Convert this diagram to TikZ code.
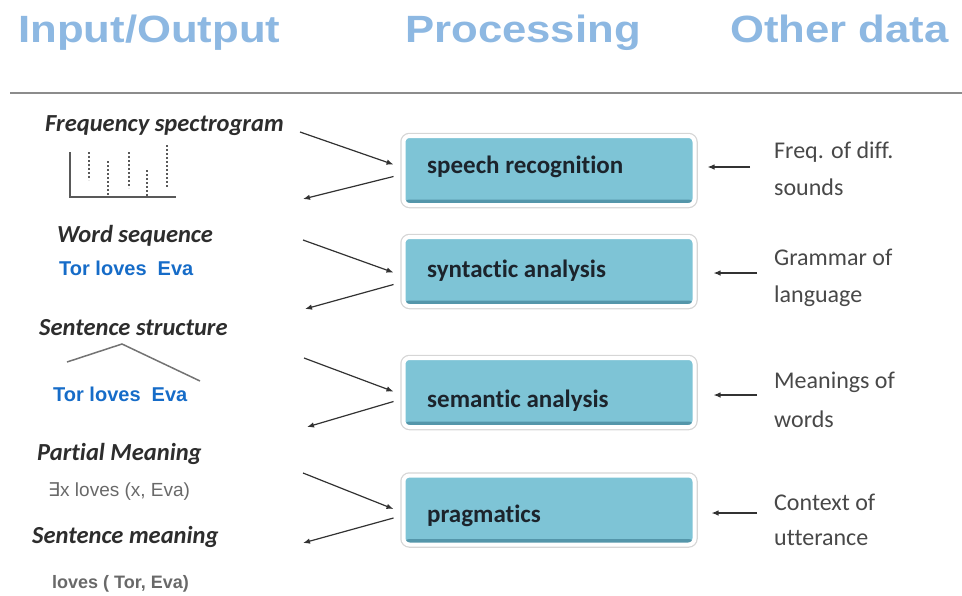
\documentclass[tikz,border=0pt]{standalone}
\usepackage{fontspec}
\setmainfont{Carlito}[Ligatures=NoCommon]
\newfontfamily\headfont{Liberation Sans}[FakeStretch=1.15]
\newfontfamily\arialfont{Liberation Sans}
\newfontfamily\symfont{DejaVu Sans}
\usetikzlibrary{arrows.meta}

\definecolor{headblue}{RGB}{141,184,226}
\definecolor{boxfill}{RGB}{126,196,214}
\definecolor{boxdark}{RGB}{84,150,170}
\definecolor{wordblue}{RGB}{22,108,200}
\definecolor{ink}{RGB}{45,45,45}
\definecolor{boxink}{RGB}{28,36,44}
\definecolor{sidegray}{RGB}{72,72,72}
\definecolor{formgray}{RGB}{105,105,105}
\definecolor{rulegray}{RGB}{140,140,140}
\definecolor{arrowgray}{RGB}{50,50,50}

\begin{document}
\begin{tikzpicture}[x=1pt,y=-1pt,
  head/.style={font=\headfont\bfseries\fontsize{38}{38}\selectfont,
    text=headblue, inner sep=0, anchor=base west},
  level/.style={font=\bfseries\itshape\fontsize{24.5}{24.5}\selectfont,
    text=ink, inner sep=0, anchor=base west},
  example/.style={font=\arialfont\bfseries\fontsize{20}{20}\selectfont,
    text=wordblue, inner sep=0, anchor=base west},
  formula/.style={font=\arialfont\fontsize{19}{19}\selectfont,
    text=formgray, inner sep=0, anchor=base west},
  side/.style={font=\fontsize{24}{24}\selectfont, text=sidegray,
    inner sep=0, anchor=base west},
  procbox/.style={draw=white, line width=4pt, fill=boxfill,
    rounded corners=6pt, minimum width=291pt, minimum height=69pt,
    inner sep=0,
    preaction={draw=black!16, line width=6.5pt},
    path picture={\fill[boxdark]
      ([yshift=5.5pt]path picture bounding box.south west) rectangle
      (path picture bounding box.south east);}},
  proctext/.style={font=\bfseries\fontsize{25}{25}\selectfont,
    text=boxink, inner sep=0, anchor=base west},
  arr/.style={draw=arrowgray, line width=1.2pt,
    -{Latex[length=7pt,width=5.5pt]}},
  axis/.style={draw=black!65, line width=1.3pt},
  bar/.style={draw=black!65, line width=1.2pt, dash pattern=on 2pt off 2pt},
  tree/.style={draw=black!55, line width=1.5pt}
]
\useasboundingbox (0,0) rectangle (962,595);

% column headings and rule
\node[head] (hio)   at (18,42)  {Input/Output};
\node[head] (hproc) at (405,42) {Processing};
\node[head] (hdata) at (730,42) {Other data};
\coordinate (ruleL) at (10,93);
\coordinate (ruleR) at (962,93);
\draw[draw=rulegray, line width=2.5pt] (ruleL) -- (ruleR);

% processing stages
\node[procbox] (b1) at (549,170.5) {};
\node[procbox] (b2) at (549,271.5) {};
\node[procbox] (b3) at (549,392.5) {};
\node[procbox] (b4) at (549,510)   {};
\node[proctext] (t1) at (427,173) {speech recognition};
\node[proctext] (t2) at (427,277) {syntactic analysis};
\node[proctext] (t3) at (427,407) {semantic analysis};
\node[proctext] (t4) at (427,522) {pragmatics};

% input/output representations
\node[level] (l1) at (45,131) {Frequency spectrogram};
\node[level] (l2) at (57,242) {Word sequence};
\node[example] (e2) at (59,275) {Tor loves\ \ Eva};
\node[level] (l3) at (39,335) {Sentence structure};
\node[example] (e3) at (53,401) {Tor loves\ \ Eva};
\node[level] (l4) at (37,460) {Partial Meaning};
\node[formula] (e4) at (48,496) {{\symfont\char"2203}x loves (x, Eva)};
\node[formula, font=\arialfont\bfseries\fontsize{18}{18}\selectfont] (e5)
  at (52,588) {loves ( Tor, Eva)};
\node[level] (l5) at (32,543) {Sentence meaning};

% spectrogram sketch
\coordinate (axTop) at (70,152);
\coordinate (axO)   at (70,197);
\coordinate (axR)   at (176,197);
\draw[axis] (axTop) -- (axO) -- (axR);
\draw[bar] (89,152) -- (89,180);
\draw[bar] (108,161) -- (108,197);
\draw[bar] (129,152) -- (129,188);
\draw[bar] (147,170) -- (147,197);
\draw[bar] (167,145) -- (167,188);

% sentence tree
\coordinate (trL) at (67,362);
\coordinate (trT) at (122,344);
\coordinate (trR) at (200,381);
\draw[tree] (trL) -- (trT) -- (trR);

% knowledge sources
\node[side] (r1a) at (774,158) {Freq. of diff.};
\node[side] (r1b) at (774,195) {sounds};
\node[side] (r2a) at (774,265) {Grammar of};
\node[side] (r2b) at (774,302) {language};
\node[side] (r3a) at (774,388) {Meanings of};
\node[side] (r3b) at (774,427) {words};
\node[side] (r4a) at (774,510) {Context of};
\node[side] (r4b) at (774,545) {utterance};

% free ends of the left-hand connectors
\coordinate (in1)  at (300,132);
\coordinate (out1) at (303,199);
\coordinate (in2)  at (303,240);
\coordinate (out2) at (305,309);
\coordinate (in3)  at (304,358);
\coordinate (out3) at (307,427);
\coordinate (in4)  at (303,473);
\coordinate (out4) at (303,543);

\draw[arr] (in1) -- ([xshift=-8pt,yshift=6pt]b1.west);
\draw[arr] ([xshift=-8pt,yshift=-6pt]b1.west) -- (out1);
\draw[arr] (in2) -- ([xshift=-8pt,yshift=-1pt]b2.west);
\draw[arr] ([xshift=-8pt,yshift=-13pt]b2.west) -- (out2);
\draw[arr] (in3) -- ([xshift=-8pt,yshift=1pt]b3.west);
\draw[arr] ([xshift=-8pt,yshift=-9pt]b3.west) -- (out3);
\draw[arr] (in4) -- ([xshift=-8pt,yshift=1pt]b4.west);
\draw[arr] ([xshift=-8pt,yshift=-8pt]b4.west) -- (out4);

% free ends of the right-hand connectors
\coordinate (src1) at (750,167);
\coordinate (src2) at (757,273);
\coordinate (src3) at (757,395);
\coordinate (src4) at (757,513);
\draw[arr] (src1) -- ([xshift=11pt]b1.east |- src1);
\draw[arr] (src2) -- ([xshift=17pt]b2.east |- src2);
\draw[arr] (src3) -- ([xshift=17pt]b3.east |- src3);
\draw[arr] (src4) -- ([xshift=15pt]b4.east |- src4);
\end{tikzpicture}
\end{document}
